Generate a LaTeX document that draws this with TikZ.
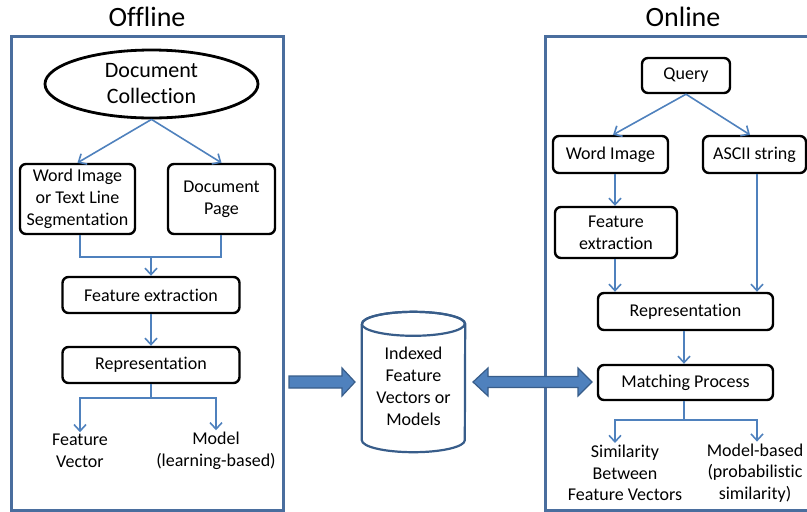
\documentclass[tikz,border=0pt]{standalone}
\usepackage{fontspec}
\setmainfont[Ligatures=NoCommon]{Carlito}
\usetikzlibrary{arrows.meta,shapes.geometric,calc}

\definecolor{linkblue}{HTML}{4F81BD}
\definecolor{panelblue}{HTML}{4A6E9E}
\definecolor{blockfill}{HTML}{4F81BD}
\definecolor{blockedge}{HTML}{385D8A}

\tikzset{
  panel/.style={draw=panelblue, line width=3pt},
  title/.style={font=\fontsize{28}{30}\selectfont},
  procbox/.style={draw=black, line width=2.4pt, rounded corners=6pt, align=center,
    font=\fontsize{18}{22}\selectfont, inner sep=0pt},
  outtext/.style={align=center, font=\fontsize{18}{21.5}\selectfont, inner sep=2pt},
  conn/.style={draw=linkblue, line width=1.6pt, -{Straight Barb[length=6.5pt,width=12pt,line width=1.6pt]}},
  plain/.style={draw=linkblue, line width=1.6pt},
  block/.style={fill=blockfill, draw=blockedge, line width=1.2pt, line join=miter},
}

\begin{document}
\begin{tikzpicture}[x=1pt,y=-1pt]
\useasboundingbox (0,0) rectangle (807,512);

% panels and titles
\draw[panel] (11,515) -- (11,36) -- (283,36) -- (283,515);
\draw[panel] (11,510) -- (283,510);
\draw[panel] (812,36) -- (545,36) -- (545,510) -- (812,510);
\node[title] (toff) at (147,17) {Offline};
\node[title] (ton) at (683,17) {Online};

% offline chain
\node[draw=black, line width=2.8pt, ellipse, minimum width=213pt, minimum height=68pt,
      inner sep=0pt, align=center, font=\fontsize{22}{26}\selectfont] (coll) at (151.5,84) {Document\\Collection};
\node[procbox, minimum width=115pt, minimum height=70pt] (wi) at (77.5,199) {Word Image\\or Text Line\\Segmentation};
\node[procbox, minimum width=107pt, minimum height=70pt] (dp) at (221.5,199) {Document\\Page};
\node[procbox, minimum width=177pt, minimum height=36pt] (fe) at (151,295) {Feature extraction};
\node[procbox, minimum width=177pt, minimum height=36pt] (rep) at (151,365) {Representation};
\node[outtext] (fv) at (80,451) {Feature\\Vector};
\node[outtext] (mdl) at (216,451) {Model\\(learning-based)};

\draw[conn] (coll.south) -- (wi.north);
\draw[conn] (coll.south) -- (dp.north);
\coordinate (jl) at (80,257);
\coordinate (jr) at (221,257);
\coordinate (jm) at (151,257);
\draw[plain] (wi.south -| jl) -- (jl) -- (jr) -- (dp.south -| jr);
\draw[conn] (jm) -- (fe.north);
\draw[conn] (fe.south) -- (rep.north);
\coordinate (fk) at (151,398);
\draw[plain] (rep.south) -- (fk);
\draw[conn] (fk) -| (fv.north);
\draw[conn] (fk) -| (mdl.north);

% index store: cylinder drawn around an empty sizing node
\node[minimum width=103pt, minimum height=140pt, inner sep=0pt] (db) at (413.5,382) {};
\coordinate (ctl) at ($(db.north west)+(0,12)$);
\coordinate (cbl) at ($(db.south west)+(0,-12)$);
\coordinate (ctr) at ($(db.north east)+(0,12)$);
\draw[draw=blockedge, line width=2.2pt, fill=white]
  (ctl) -- (cbl) arc[start angle=180, end angle=360, x radius=51.5pt, y radius=12pt]
  -- (ctr) arc[start angle=0, end angle=180, x radius=51.5pt, y radius=12pt];
\draw[draw=blockedge, line width=2.2pt] (ctl) arc[start angle=180, end angle=540, x radius=51.5pt, y radius=12pt];
\node[align=center, font=\fontsize{18}{22}\selectfont] (dbt) at ($(db.center)+(0,4)$) {Indexed\\Feature\\Vectors or\\Models};

% block arrows
\coordinate (ra) at (355,382);
\draw[block] (289,376) -- (342,376) -- (342,368) -- (ra) -- (342,396) -- (342,388) -- (289,388) -- cycle;
\draw[block] (473,382) -- (488,368) -- (488,376.5) -- (578,376.5) -- (578,368) -- (592,382)
  -- (578,396) -- (578,387.5) -- (488,387.5) -- (488,396) -- cycle;

% online chain
\node[procbox, minimum width=88pt, minimum height=35pt] (query) at (686,75.5) {Query};
\node[procbox, minimum width=115pt, minimum height=37pt] (wim) at (610.5,154.5) {Word Image};
\node[procbox, minimum width=103pt, minimum height=37pt] (ascii) at (754.5,154.5) {ASCII string};
\node[procbox, minimum width=122pt, minimum height=51pt] (ofe) at (616,232.5) {Feature\\extraction};
\node[procbox, minimum width=175pt, minimum height=37pt] (orep) at (685.5,311.5) {Representation};
\node[procbox, minimum width=175pt, minimum height=35pt] (match) at (685.5,382.5) {Matching Process};
\node[outtext] (sim) at (625,473) {Similarity\\Between\\Feature Vectors};
\node[outtext] (mb) at (755,473) {Model-based\\(probabilistic\\similarity)};

\draw[conn] (query.south) -- (wim.north -| 613,0);
\draw[conn] (query.south) -- (ascii.north -| 750,0);
\draw[conn] (wim.south -| 615,0) -- (ofe.north -| 615,0);
\draw[conn] (ofe.south -| 615,0) -- (orep.north -| 615,0);
\draw[conn] (ascii.south -| 757,0) -- (orep.north -| 757,0);
\draw[conn] (orep.south -| 684,0) -- (match.north -| 684,0);
\coordinate (ofk) at (684,420);
\draw[plain] (match.south -| ofk) -- (ofk);
\draw[conn] (ofk) -| (sim.north -| 615,0);
\draw[conn] (ofk) -| (mb.north -| 757,0);
\end{tikzpicture}
\end{document}
